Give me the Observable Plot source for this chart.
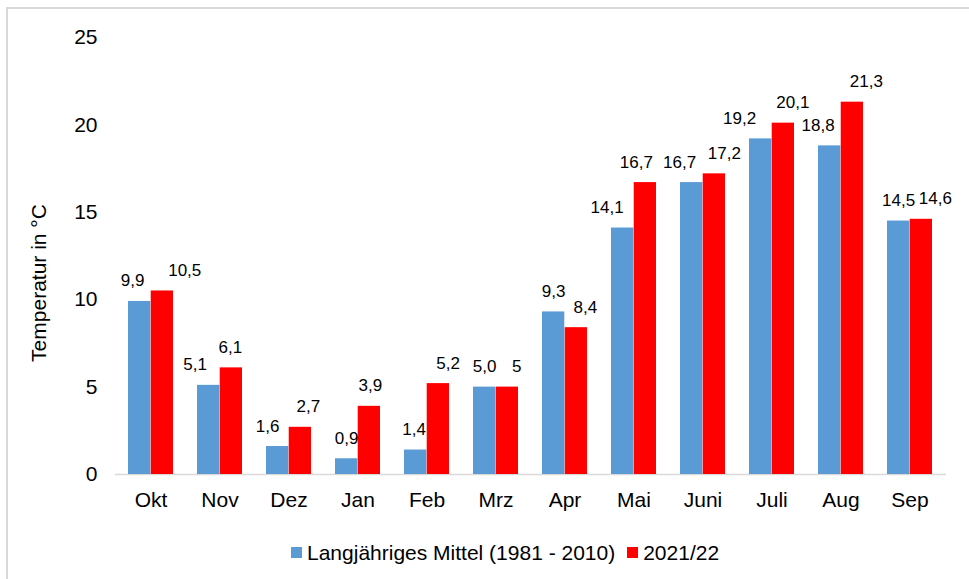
<!DOCTYPE html>
<html>
<head>
<meta charset="utf-8">
<script src="https://cdn.jsdelivr.net/npm/d3@7"></script>
<script src="https://cdn.jsdelivr.net/npm/@observablehq/plot@0.6"></script>
<style>
  html, body { margin: 0; padding: 0; background: #fff; overflow: hidden; width: 969px; height: 579px; }
  #frame { position: absolute; left: 6px; top: 7px; width: 1100px; height: 1100px; border: 2px solid #d9d9d9; box-sizing: border-box; }
  #chart { position: absolute; left: 0; top: 0; }
  #legend { position: absolute; left: 291px; top: 542px; display: flex; align-items: flex-start;
            font: 21px "Liberation Sans", Arial, sans-serif; line-height: 21px; color: #000; white-space: nowrap; }
  .sw { width: 11px; height: 11px; margin-top: 5px; margin-right: 5px; }
  .item { display: flex; align-items: flex-start; margin-right: 12px; }
</style>
</head>
<body>
<div id="frame"></div>
<div id="chart"></div>
<div id="legend"></div>
<script>
// ---- data ----
const months = ["Okt", "Nov", "Dez", "Jan", "Feb", "Mrz", "Apr", "Mai", "Juni", "Juli", "Aug", "Sep"];
const meanValues = [9.9, 5.1, 1.6, 0.9, 1.4, 5.0, 9.3, 14.1, 16.7, 19.2, 18.8, 14.5];
const yearValues = [10.5, 6.1, 2.7, 3.9, 5.2, 5, 8.4, 16.7, 17.2, 20.1, 21.3, 14.6];
const meanLabels = ["9,9", "5,1", "1,6", "0,9", "1,4", "5,0", "9,3", "14,1", "16,7", "19,2", "18,8", "14,5"];
const yearLabels = ["10,5", "6,1", "2,7", "3,9", "5,2", "5", "8,4", "16,7", "17,2", "20,1", "21,3", "14,6"];
const seriesNames = ["Langjähriges Mittel (1981 - 2010)", "2021/22"];
const yTicks = [0, 5, 10, 15, 20, 25];
const yTitle = "Temperatur in °C";

// label nudges (pixels) as placed in the original chart
const meanLabelNudge = [-7, -13.5, -10, 0, -1.5, 0, 0, -15.5, -12, -21, -11.5, 0];
const yearLabelNudge = [22.4, -1, 8, 1, 9.7, 9.5, 9, -9, 10, 9.5, 14, 14];

// ---- layout / style ----
const colors = ["#5B9BD5", "#FF0000"];
const W = 969, H = 520, mL = 115, mR = 23, mT = 37, mB = 46;
const paddingInner = 0.344, paddingOuter = 0.172;
const font = '"Liberation Sans", Arial, sans-serif';

const xs = Plot.scale({x: {type: "band", domain: months, range: [mL, W - mR], paddingInner, paddingOuter}});
const half = xs.bandwidth / 2;

const rows = months.map((m, i) => ({
  month: m, mean: meanValues[i], year: yearValues[i],
  meanLabel: meanLabels[i], yearLabel: yearLabels[i],
  meanNudge: meanLabelNudge[i], yearNudge: yearLabelNudge[i]
}));

const labelMarks = rows.flatMap(r => [
  Plot.text([r], {x: "month", y: "mean", text: "meanLabel", dx: -half / 2 + r.meanNudge, dy: -15,
                  lineAnchor: "bottom", fontSize: 17, fill: "#000"}),
  Plot.text([r], {x: "month", y: "year", text: "yearLabel", dx: half / 2 + r.yearNudge, dy: -15,
                  lineAnchor: "bottom", fontSize: 17, fill: "#000"})
]);

const chart = Plot.plot({
  width: W, height: H,
  marginLeft: mL, marginRight: mR, marginTop: mT, marginBottom: mB,
  style: {fontFamily: font, fontSize: "21px", color: "#000", background: "transparent", overflow: "visible"},
  x: {domain: months, paddingInner, paddingOuter, label: null, tickSize: 0, tickPadding: 18},
  y: {domain: [0, 25], ticks: yTicks, label: null, tickSize: 0, tickPadding: 18},
  marks: [
    Plot.ruleY([0], {stroke: "#d9d9d9", strokeWidth: 1.5}),
    Plot.barY(rows, {x: "month", y: "mean", fill: colors[0], insetLeft: 0, insetRight: half}),
    Plot.barY(rows, {x: "month", y: "year", fill: colors[1], insetLeft: half, insetRight: 0}),
    ...labelMarks,
    Plot.text([yTitle], {frameAnchor: "left", textAnchor: "middle", rotate: -90, dx: -76.5, dy: 27,
                         fontSize: 21, fill: "#000"})
  ]
});
document.getElementById("chart").appendChild(chart);

// ---- legend ----
const legend = document.getElementById("legend");
seriesNames.forEach((name, i) => {
  const item = document.createElement("div");
  item.className = "item";
  const sw = document.createElement("div");
  sw.className = "sw";
  sw.style.background = colors[i];
  const label = document.createElement("span");
  label.textContent = name;
  item.appendChild(sw);
  item.appendChild(label);
  legend.appendChild(item);
});
</script>
</body>
</html>
